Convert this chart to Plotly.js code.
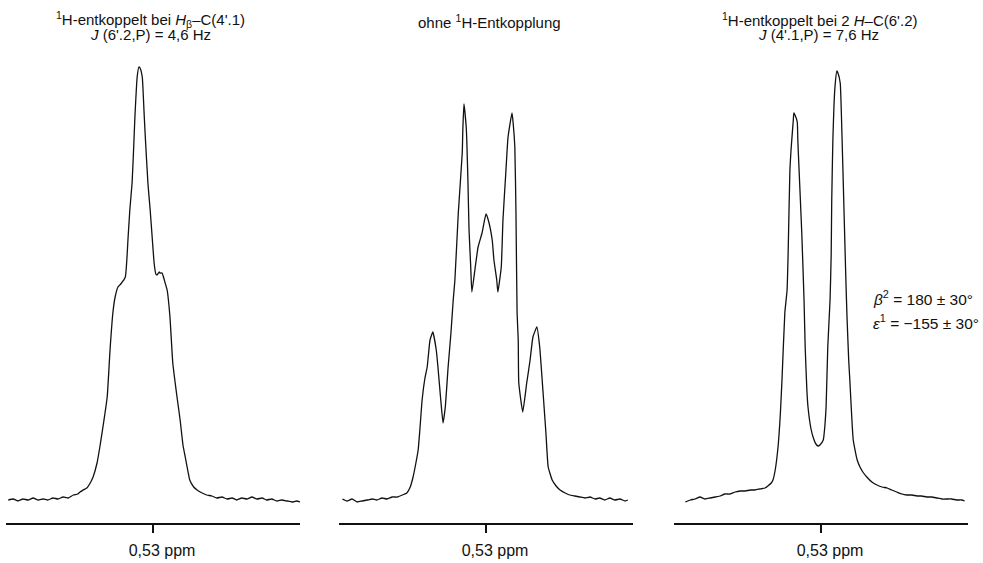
<!DOCTYPE html>
<html>
<head>
<meta charset="utf-8">
<script src="https://cdn.plot.ly/plotly-3.0.1.min.js"></script>
<style>html,body{margin:0;padding:0;background:#fff;}#chart{width:983px;height:563px;}</style>
</head>
<body>
<div id="chart"></div>
<script>
// Frequency offset from 0.53 ppm (Hz) and intensity (arbitrary units)
const hz1 = [-25.6,-24.7,-23.9,-23.0,-22.1,-21.2,-20.3,-19.4,-18.6,-17.7,-16.8,-15.9,-15.0,-14.1,-13.3,-12.9,-12.0,-11.7,-11.1,-10.6,-9.9,-9.4,-8.8,-8.1,-7.6,-7.1,-6.7,-6.2,-5.7,-4.9,-4.4,-4.1,-3.7,-3.4,-3.2,-2.8,-2.5,-2.3,-1.9,-1.6,-1.4,-0.9,-0.5,-0.2,0.2,0.5,0.7,1.1,1.2,1.6,1.8,2.1,2.5,3.0,3.5,4.2,4.8,5.3,5.7,6.2,6.5,7.2,7.8,8.7,9.5,10.4,11.3,12.2,13.1,14.0,14.8,15.7,16.6,17.5,18.4,19.3,20.1,21.0,21.9,22.8,23.7,24.6,25.4,26.0];
const int1 = [0,1,-1,1,0,2,0,1,0,2,1,3,2,5,6,8,11,12,17,23,37,53,75,103,150,187,203,213,216,223,263,290,317,355,383,423,433,432,423,390,367,317,290,267,237,226,225,228,227,227,224,218,210,183,137,105,80,55,43,28,20,13,10,7,5,4,2,3,1,2,0,2,1,3,1,2,0,1,-1,0,-1,-2,-1,-2];

const hz2 = [-25.4,-24.6,-23.7,-22.8,-21.9,-21.0,-20.1,-19.3,-18.4,-17.5,-16.6,-15.7,-14.8,-14.0,-13.4,-12.9,-12.4,-12.0,-11.7,-11.3,-10.8,-10.4,-9.9,-9.4,-8.8,-8.5,-8.0,-7.6,-7.2,-6.7,-6.2,-5.8,-5.5,-4.9,-4.2,-4.1,-3.9,-3.5,-3.4,-3.2,-3.0,-2.7,-2.5,-1.9,-1.4,-0.7,0,0.4,1.1,1.4,1.9,2.1,2.7,3.0,3.5,3.9,4.6,4.8,5.1,5.3,5.5,5.7,5.8,6.5,7.2,7.8,8.3,9.0,9.5,10.1,10.6,11.0,11.7,12.4,13.1,14.0,14.8,15.7,16.6,17.5,18.4,19.3,20.1,21.0,21.9,22.8,23.7,24.6,25.1];
const int2 = [1,-1,1,-2,-1,0,1,0,2,1,3,3,5,7,13,23,37,50,70,100,122,133,160,168,150,133,100,77,93,133,167,200,220,287,347,370,396,373,360,320,270,233,208,233,253,267,286,280,260,240,220,208,233,280,327,363,387,377,353,287,187,160,117,88,117,140,163,173,153,107,67,33,20,14,10,7,5,4,3,2,3,1,2,0,2,0,1,-1,0];

const hz3 = [-24.0,-23.1,-22.3,-21.4,-20.5,-19.6,-18.7,-17.8,-17.0,-16.1,-15.2,-14.3,-13.4,-12.5,-11.7,-10.8,-9.9,-9.4,-8.8,-8.5,-8.1,-7.6,-7.2,-6.9,-6.4,-6.0,-5.8,-5.5,-5.3,-4.9,-4.8,-4.6,-4.2,-4.1,-3.9,-3.4,-3.0,-2.8,-2.5,-2.3,-1.8,-1.4,-0.9,-0.5,-0.2,0.4,0.7,0.9,1.2,1.6,1.8,1.9,2.1,2.3,2.5,2.8,3.0,3.4,3.7,4.1,4.4,4.6,4.9,5.1,5.7,6.4,6.9,7.4,8.1,9.0,9.9,10.8,11.7,12.5,13.4,14.3,15.2,16.1,17.0,17.8,18.7,19.6,20.5,21.4,22.3,23.1,24.0,24.9,25.4];
const int3 = [-2,0,1,3,1,2,3,4,6,6,8,9,9,10,10,11,12,14,17,20,30,53,85,120,187,210,250,330,350,380,387,385,378,360,333,267,200,153,110,93,72,63,56,54,55,60,75,93,153,200,245,300,360,395,415,429,427,417,367,283,220,183,140,120,60,40,33,28,23,18,15,13,12,10,8,6,5,5,4,4,3,3,2,1,1,1,0,0,-1];

const tickVals = [0];
const tickText = ['0,53 ppm'];

const titles = [
  ["<sup>1</sup>H-entkoppelt bei <i>H</i><sub>β</sub>–C(4'.1)", "<i>J</i> (6'.2,P) = 4,6 Hz"],
  ["ohne <sup>1</sup>H-Entkopplung", ""],
  ["<sup>1</sup>H-entkoppelt bei 2 <i>H</i>–C(6'.2)", "<i>J</i> (4'.1,P) = 7,6 Hz"]
];
const angleLines = ["<i>β</i><sup>2</sup> = 180 ± 30°", "<i>ε</i><sup>1</sup> = −155 ± 30°"];

const W = 983, H = 563;
const px = v => v / W;
const py = v => 1 - v / H;

const lineStyle = {color: '#111', width: 1.3, shape: 'spline', smoothing: 0.4};
const traces = [
  {x: hz1, y: int1, xaxis: 'x', yaxis: 'y', mode: 'lines', line: lineStyle, hoverinfo: 'skip'},
  {x: hz2, y: int2, xaxis: 'x2', yaxis: 'y', mode: 'lines', line: lineStyle, hoverinfo: 'skip'},
  {x: hz3, y: int3, xaxis: 'x3', yaxis: 'y', mode: 'lines', line: lineStyle, hoverinfo: 'skip'}
];

const fontFamily = 'Liberation Sans, Arial, sans-serif';
function xax(d) {
  return {
    domain: d, range: [-26, 26], anchor: 'free', position: py(524),
    showline: true, linecolor: '#111', linewidth: 2, mirror: false,
    ticks: 'outside', ticklen: 8, tickwidth: 2, tickcolor: '#111',
    tickvals: tickVals, ticktext: tickText, ticklabelshift: 9, ticklabelstandoff: 4,
    tickfont: {family: fontFamily, size: 16, color: '#111'},
    showgrid: false, zeroline: false, fixedrange: true
  };
}

const font = {family: fontFamily, size: 15.5, color: '#111'};
const titleFont = {family: fontFamily, size: 15, color: '#111'};
const annotations = [];
const tpos = [[150, 20, 150, 35], [489, 21, 0, 0], [820, 20, 818, 35]];
titles.forEach((t, i) => {
  annotations.push({xref: 'paper', yref: 'paper', x: px(tpos[i][0]), y: py(tpos[i][1]), text: t[0], showarrow: false, xanchor: 'center', yanchor: 'middle', font: titleFont});
  if (t[1]) annotations.push({xref: 'paper', yref: 'paper', x: px(tpos[i][2]), y: py(tpos[i][3]), text: t[1], showarrow: false, xanchor: 'center', yanchor: 'middle', font: titleFont});
});
annotations.push({xref: 'paper', yref: 'paper', x: px(871), y: py(298), text: angleLines[0], showarrow: false, xanchor: 'left', yanchor: 'middle', font: font});
annotations.push({xref: 'paper', yref: 'paper', x: px(871), y: py(322), text: angleLines[1], showarrow: false, xanchor: 'left', yanchor: 'middle', font: font});

const layout = {
  width: W, height: H, margin: {l: 0, r: 0, t: 0, b: 0},
  paper_bgcolor: '#fff', plot_bgcolor: 'rgba(0,0,0,0)', showlegend: false,
  xaxis: xax([px(6), px(300)]),
  xaxis2: xax([px(339), px(633)]),
  xaxis3: xax([px(674), px(968)]),
  yaxis: {domain: [0, 1], range: [-63, 500], visible: false, fixedrange: true},
  annotations: annotations
};

Plotly.newPlot('chart', traces, layout, {displayModeBar: false, staticPlot: true});
</script>
</body>
</html>
